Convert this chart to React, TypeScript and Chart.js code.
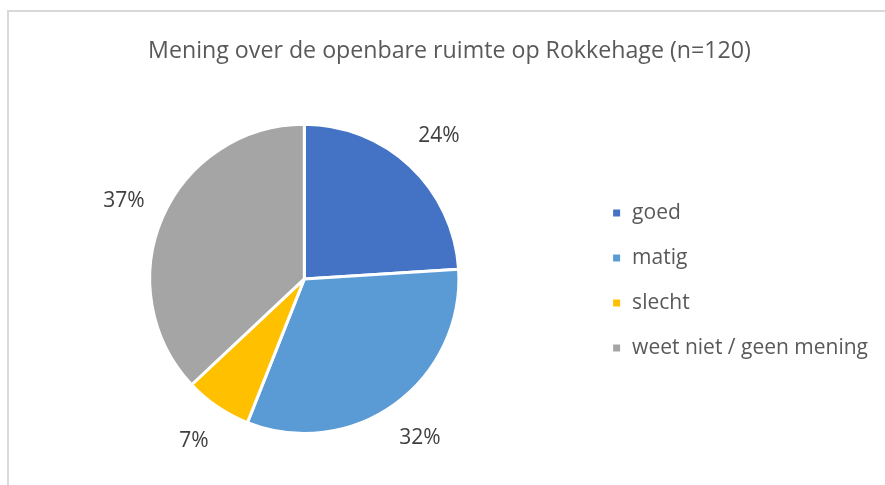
import React, { useEffect, useRef } from "react";
import { Chart, registerables } from "chart.js";

Chart.register(...registerables);

const TITLE = "Mening over de openbare ruimte op Rokkehage (n=120)";
const categories = ["goed", "matig", "slecht", "weet niet / geen mening"];
const percentages = [24, 32, 7, 37];
const colors = ["#4472C4", "#5B9BD5", "#FFC000", "#A5A5A5"];

const FONT = "'Open Sans', sans-serif";

const frameAndLabels = {
  id: "frameAndLabels",
  beforeDraw(chart: any) {
    const ctx = chart.ctx;
    ctx.save();
    ctx.fillStyle = "#ffffff";
    ctx.fillRect(0, 0, chart.width, chart.height);
    ctx.strokeStyle = "#d9d9d9";
    ctx.lineWidth = 2;
    ctx.beginPath();
    ctx.moveTo(8, chart.height);
    ctx.lineTo(8, 11);
    ctx.lineTo(chart.width, 11);
    ctx.stroke();
    ctx.restore();
  },
  afterDatasetsDraw(chart: any) {
    const ctx = chart.ctx;
    const meta = chart.getDatasetMeta(0);
    ctx.save();
    ctx.font = `21px ${FONT}`;
    ctx.fillStyle = "#404040";
    ctx.textAlign = "center";
    ctx.textBaseline = "middle";
    meta.data.forEach((arc: any, i: number) => {
      const { x, y, startAngle, endAngle, outerRadius } = arc.getProps(
        ["x", "y", "startAngle", "endAngle", "outerRadius"],
        true
      );
      const mid = (startAngle + endAngle) / 2;
      const r = outerRadius + 42;
      ctx.fillText(
        percentages[i] + "%",
        x + Math.cos(mid) * r,
        y + Math.sin(mid) * r
      );
    });
    ctx.restore();
  },
};

export default function App() {
  const ref = useRef<HTMLCanvasElement | null>(null);
  useEffect(() => {
    if (!ref.current) return;
    const chart = new Chart(ref.current, {
      type: "pie",
      data: {
        labels: categories,
        datasets: [
          {
            data: percentages,
            backgroundColor: colors,
            borderColor: "#ffffff",
            borderWidth: 3,
          },
        ],
      },
      options: {
        animation: false,
        responsive: false,
        maintainAspectRatio: false,
        layout: { padding: { top: 10, left: 21, right: 7, bottom: 50 } },
        plugins: {
          title: {
            display: true,
            text: TITLE,
            color: "#595959",
            font: { family: FONT, size: 23.2, weight: "normal" },
            padding: { top: 27, bottom: 58 },
          },
          legend: {
            position: "right",
            title: {
              display: true,
              text: " ",
              font: { family: FONT, size: 10 },
              padding: { top: 0, bottom: 104 },
            },
            labels: {
              color: "#595959",
              font: { family: FONT, size: 21 },
              boxWidth: 10,
              boxHeight: 10,
              padding: 24,
            },
          },
          tooltip: { enabled: false },
        },
      },
      plugins: [frameAndLabels],
    });
    return () => chart.destroy();
  }, []);
  return (
    <div style={{ position: "fixed", left: 0, top: 0, width: 885, height: 485 }}>
      <canvas ref={ref} width={885} height={485} style={{ width: 885, height: 485 }} />
    </div>
  );
}
